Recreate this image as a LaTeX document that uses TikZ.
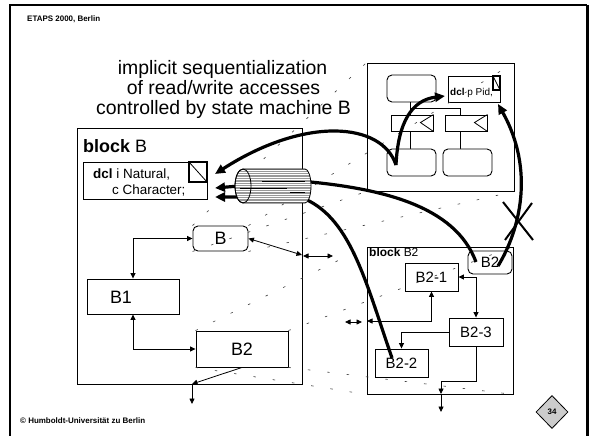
\documentclass[tikz,border=0pt]{standalone}
\usepackage{fontspec}
\setmainfont{Liberation Sans}
\usetikzlibrary{arrows.meta,shapes.geometric}
\newcommand\fsz[1]{\fontsize{#1}{#1}\selectfont}

\begin{document}
\begin{tikzpicture}[x=1bp,y=-1bp,
  box/.style={draw, line width=0.9bp, fill=white, inner sep=0pt},
  rbox/.style={box, rounded corners=5bp},
  lbl/.style={inner sep=0pt, anchor=base},
  wire/.style={line width=0.8bp},
  tip/.style={-{Triangle[length=5.5bp,width=5bp]}},
  tips/.style={{Triangle[length=5.5bp,width=5bp]}-{Triangle[length=5.5bp,width=5bp]}},
  heavy/.style={line width=3.2bp, -{Triangle[length=10bp,width=9bp]}},
  proj/.style={draw=black!75, line width=0.6bp, dash pattern=on 2.5bp off 17bp},
  flag/.style={draw, line width=1.4bp}]

\useasboundingbox (0,0) rectangle (589,436);
\fill[white] (0,0) rectangle (589,436);

% slide frame
\draw[line width=1.6bp] (10,460) -- (10,5) -- (587,5);
\draw[line width=3bp] (587,5) -- (587,460);

% header, title and footer
\node[lbl, anchor=base west, font=\fsz{8}\bfseries] (hdr) at (27,22) {ETAPS 2000, Berlin};
\node[lbl, font=\fsz{19.5}] (t1) at (222.5,75) {implicit sequentialization};
\node[lbl, font=\fsz{19.5}] (t2) at (223.5,95) {of read/write accesses};
\node[lbl, font=\fsz{19.5}] (t3) at (223.5,115) {controlled by state machine B};
\node[lbl, anchor=base west, font=\fsz{8}\bfseries] (ftr) at (20,423) {© Humboldt-Universität zu Berlin};
\node[diamond, draw, line width=0.8bp, fill=black!20, minimum width=32bp, minimum height=33bp, inner sep=0pt, font=\fsz{8}\bfseries] (pg) at (552,412) {34};

% block B
\node[box, fill=none, minimum width=225bp, minimum height=256bp] (blockB) at (189.5,256) {};
\node[lbl, anchor=base west, font=\fsz{18}] (blockBt) at (83,152.5) {\textbf{block} B};
\node[box, minimum width=124bp, minimum height=37bp] (dclB) at (145,180.5) {};
\draw[flag] (189,162) rectangle (207,182);
\draw[line width=0.8bp] (189,162) -- (207,182);
\node[lbl, anchor=base west, font=\fsz{13.5}] (dclB1) at (93,179) {\textbf{dcl} i Natural,};
\node[lbl, anchor=base west, font=\fsz{13.5}] (dclB2) at (112,194.5) {c Character;};
\node[rbox, minimum width=55bp, minimum height=25bp, font=\fsz{18}] (Bst) at (220.5,238.5) {B};
\node[box, minimum width=92bp, minimum height=35bp] (B1) at (133,296.5) {};
\node[lbl, font=\fsz{18}] (B1t) at (121,303) {B1};
\node[box, minimum width=92bp, minimum height=36bp, font=\fsz{18}] (B2s) at (242,349) {B2};

% top right: process with states and signals
\node[box, fill=none, minimum width=147bp, minimum height=128bp] (proc) at (440.5,127) {};
\draw[wire] (410,102) -- (410,149);
\draw[wire] (410,108) -- (460,108) -- (460,149);
\node[rbox, minimum width=49bp, minimum height=27bp] (st1) at (411.5,88.5) {};
\node[box, minimum width=52bp, minimum height=26bp] (dclP) at (474,89) {};
\node[lbl, anchor=base west, font=\fsz{10}] (dclPt) at (450,96) {\textbf{dcl} p Pid,};
\draw[flag] (493,76) rectangle (500,90);
\draw[line width=0.8bp] (493,76) -- (500,90);
\node[box, minimum width=42bp, minimum height=16bp] (sig1) at (412,123) {};
\draw[wire] (sig1.north east) -- ++(-13,8) -- (sig1.south east);
\node[box, minimum width=42bp, minimum height=16bp] (sig2) at (466,123) {};
\draw[wire] (sig2.north east) -- ++(-13,8) -- (sig2.south east);
\node[rbox, minimum width=49bp, minimum height=27bp] (st2) at (411.5,162.5) {};
\node[rbox, minimum width=49bp, minimum height=27bp] (st3) at (467.5,162.5) {};

% block B2
\node[box, fill=none, minimum width=146bp, minimum height=147bp] (blockB2) at (440,320.5) {};
\node[lbl, anchor=base west, font=\fsz{12}] (blockB2t) at (369,257) {\textbf{block} B2};
\node[rbox, minimum width=44bp, minimum height=23bp, font=\fsz{15}] (B2r) at (490,262.5) {B2};
\node[box, minimum width=53bp, minimum height=28bp, font=\fsz{15}] (B21) at (431.5,277) {B2-1};
\node[box, minimum width=54bp, minimum height=28bp, font=\fsz{15}] (B23) at (476,332) {B2-3};
\node[box, minimum width=53bp, minimum height=28bp, font=\fsz{15}] (B22) at (401.5,363) {B2-2};

% zoom projection lines
\draw[proj] (B2s.north west) -- (blockB2.north west);
\draw[proj] (B2s.north east) -- (blockB2.north east);
\draw[proj] (B2s.south west) -- (blockB2.south west);
\draw[proj] (B2s.south east) -- (blockB2.south east);
\draw[proj] (Bst.north west) -- (proc.north west);
\draw[proj] (Bst.north east) -- (proc.north east);
\draw[proj] (Bst.south west) -- (proc.south west);
\draw[proj] (Bst.south east) -- (proc.south east);

% channels inside block B
\coordinate (pBe) at (302,255);
\coordinate (pBs) at (192,384);
\coordinate (pOa) at (303,256);
\coordinate (pOb) at (333,256);
\coordinate (pOut) at (192,404);
\draw[wire, tips] (B1.north) |- (Bst.west);
\draw[wire, tips] (B1.south) |- (B2s.west);
\draw[wire, tips] (Bst.east) -- (pBe);
\draw[wire, tips] (pOa) -- (pOb);
\draw[wire, tip] (B2s.south) -- (pBs);
\draw[wire, tip] (pBs) -- (pOut);

% channels inside block B2
\coordinate (qL) at (367,321);
\coordinate (qOa) at (345,322);
\coordinate (qOb) at (362,322);
\coordinate (qK) at (476,381);
\coordinate (qS) at (441,394);
\coordinate (qOut) at (441,412);
\draw[wire, tips] (B21.east) -| (B23.north);
\draw[wire, tips] (qL) -| (B21.south);
\draw[wire, tips] (qOa) -- (qOb);
\draw[wire, tip] (B23.west) -| (B22.north);
\draw[wire, tip] (B23.south) -- (qK) -| (qS);
\draw[wire, tip] (qS) -- (qOut);

% accesses to the shared variables
\coordinate (rd) at (396,165);
\coordinate (inA) at (215,174);
\coordinate (inB) at (215,188);
\coordinate (inC) at (215,197);
\coordinate (inP) at (445,96);
\coordinate (inQ) at (498,104);
\coordinate (srcB2) at (476,262);
\coordinate (srcB2b) at (498,266);
\coordinate (srcB22) at (392,358);
\draw[heavy] (rd) .. controls (382,122) and (305,116) .. (inA);
\draw[heavy] (rd) .. controls (398,122) and (412,100) .. (inP);
\draw[heavy] (srcB2) .. controls (455,205) and (380,188) .. (300,181) -- (inB);
\draw[heavy] (srcB22) .. controls (365,280) and (350,215) .. (300,197) -- (inC);
\draw[heavy] (srcB2b) .. controls (520,230) and (535,170) .. (inQ);

% forbidden access
\draw[line width=2bp] (503,202) -- (533,240);
\draw[line width=2bp] (532,203) -- (505,240);

% the sequentializing channel
\begin{scope}
  \clip (243,169) -- (305,169) arc[start angle=-90,end angle=90,x radius=6,y radius=17]
        -- (243,203) arc[start angle=90,end angle=270,x radius=8,y radius=17] -- cycle;
  \fill[black!40] (230,165) rectangle (315,207);
  \foreach \yy in {170,172.4,...,205} \draw[white, line width=0.6bp] (230,\yy) -- (315,\yy);
  \draw[line width=0.8bp] (262,181) -- (305,181);
  \draw[line width=0.8bp] (240,188) -- (287,188);
  \draw[line width=0.8bp] (290,192) -- (305,192);
\end{scope}
\draw[line width=0.8bp] (243,169) -- (305,169) arc[start angle=-90,end angle=90,x radius=6,y radius=17]
      -- (243,203) arc[start angle=90,end angle=270,x radius=8,y radius=17] -- cycle;
\draw[line width=0.8bp] (243,186) ellipse[x radius=8, y radius=17];
\end{tikzpicture}
\end{document}
